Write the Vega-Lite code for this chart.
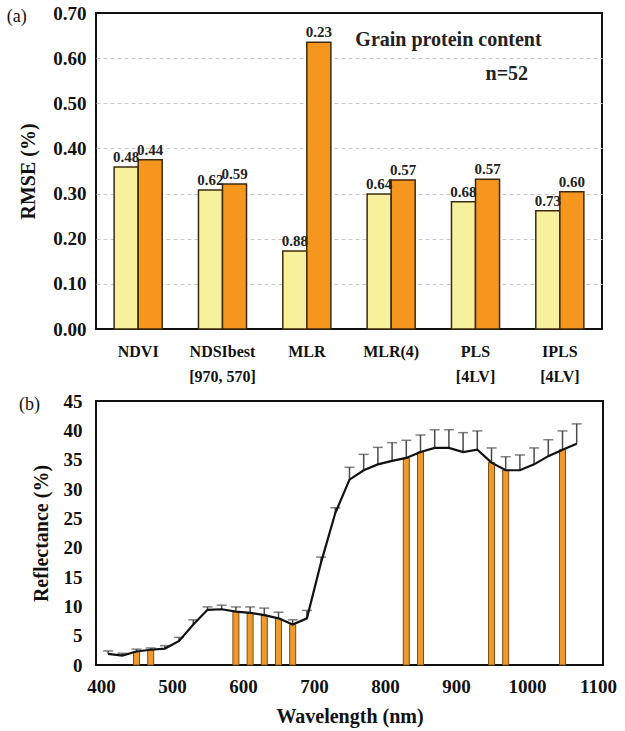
{
  "$schema": "https://vega.github.io/schema/vega-lite/v6.json",
  "padding": {"left": 5, "top": 3, "right": 5, "bottom": 5},
  "background": "white",
  "spacing": 6,
  "config": {
    "view": {"stroke": "#111", "strokeWidth": 2},
    "axis": {"labelFont": "Liberation Serif", "labelFontWeight": "bold", "titleFont": "Liberation Serif", "titleFontWeight": "bold", "labelColor": "#111", "titleColor": "#111", "domain": false, "ticks": false},
    "title": {"font": "Liberation Serif", "fontWeight": "normal", "fontSize": 18, "color": "#111"}
  },
  "vconcat": [
    {
      "width": 506,
      "height": 316,
      "title": {"text": "(a)", "anchor": "start", "frame": "bounds", "offset": -22, "dx": -12, "baseline": "top"},
      "data": {"values": [
        {"cat": "NDVI", "series": "A", "rmse": 0.359, "label": "0.48"},
        {"cat": "NDVI", "series": "B", "rmse": 0.375, "label": "0.44"},
        {"cat": "NDSIbest|[970, 570]", "series": "A", "rmse": 0.308, "label": "0.62"},
        {"cat": "NDSIbest|[970, 570]", "series": "B", "rmse": 0.321, "label": "0.59"},
        {"cat": "MLR", "series": "A", "rmse": 0.173, "label": "0.88"},
        {"cat": "MLR", "series": "B", "rmse": 0.635, "label": "0.23"},
        {"cat": "MLR(4)", "series": "A", "rmse": 0.299, "label": "0.64"},
        {"cat": "MLR(4)", "series": "B", "rmse": 0.330, "label": "0.57"},
        {"cat": "PLS|[4LV]", "series": "A", "rmse": 0.282, "label": "0.68"},
        {"cat": "PLS|[4LV]", "series": "B", "rmse": 0.332, "label": "0.57"},
        {"cat": "IPLS|[4LV]", "series": "A", "rmse": 0.262, "label": "0.73"},
        {"cat": "IPLS|[4LV]", "series": "B", "rmse": 0.304, "label": "0.60"}
      ]},
      "encoding": {
        "x": {"field": "cat", "type": "nominal", "sort": null,
          "scale": {"paddingInner": 0.43, "paddingOuter": 0.215},
          "axis": {"title": null, "labelAngle": 0, "labelFontSize": 16, "labelPadding": 14, "labelLineHeight": 25, "labelExpr": "split(datum.label, '|')"}},
        "y": {"field": "rmse", "type": "quantitative",
          "scale": {"domain": [0, 0.7], "nice": false},
          "axis": {"title": "RMSE (%)", "titleFontSize": 20, "titlePadding": 14, "labelFontSize": 19, "labelPadding": 10, "format": ".2f", "values": [0, 0.1, 0.2, 0.3, 0.4, 0.5, 0.6, 0.7], "grid": true, "gridDash": [4, 3], "gridColor": "#c8c8c8", "gridWidth": 1,
            "gridOpacity": {"condition": {"test": "datum.value > 0.65 || datum.value < 0.05", "value": 0}, "value": 1}}}
      },
      "layer": [
        {
          "mark": {"type": "bar", "stroke": "#3d2a0c", "strokeWidth": 1.5},
          "encoding": {
            "xOffset": {"field": "series", "type": "nominal"},
            "color": {"field": "series", "type": "nominal", "legend": null, "scale": {"domain": ["A", "B"], "range": ["#f7f09c", "#f5961e"]}}
          }
        },
        {
          "mark": {"type": "text", "font": "Liberation Serif", "fontWeight": "bold", "fontSize": 15, "baseline": "bottom", "dy": -2, "color": "#222"},
          "encoding": {
            "xOffset": {"field": "series", "type": "nominal"},
            "text": {"field": "label"}
          }
        },
        {
          "data": {"values": [
            {"cat": "PLS|[4LV]", "rmse": 0.64, "note": "Grain protein content", "shift": 0},
            {"cat": "IPLS|[4LV]", "rmse": 0.565, "note": "n=52", "shift": 1}
          ]},
          "mark": {"type": "text", "font": "Liberation Serif", "fontWeight": "bold", "fontSize": 20, "baseline": "middle", "color": "#222"},
          "encoding": {
            "text": {"field": "note"},
            "xOffset": {"field": "shift", "type": "quantitative", "scale": {"domain": [0, 1], "range": [-3, -29]}}
          }
        }
      ]
    },
    {
      "width": 507,
      "height": 264,
      "title": {"text": "(b)", "anchor": "start", "frame": "bounds", "offset": -22, "dx": -12, "baseline": "top"},
      "data": {"values": [
        {"wl": 410, "r": 1.9, "up": 2.4, "sel": false},
        {"wl": 430, "r": 1.6, "up": 2.0, "sel": false},
        {"wl": 450, "r": 2.3, "up": 2.7, "sel": true},
        {"wl": 470, "r": 2.6, "up": 2.9, "sel": true},
        {"wl": 490, "r": 2.8, "up": 3.3, "sel": false},
        {"wl": 510, "r": 4.1, "up": 4.7, "sel": false},
        {"wl": 530, "r": 6.9, "up": 7.7, "sel": false},
        {"wl": 550, "r": 9.4, "up": 9.9, "sel": false},
        {"wl": 570, "r": 9.5, "up": 10.2, "sel": false},
        {"wl": 590, "r": 9.1, "up": 9.9, "sel": true},
        {"wl": 610, "r": 8.9, "up": 9.9, "sel": true},
        {"wl": 630, "r": 8.5, "up": 9.7, "sel": true},
        {"wl": 650, "r": 7.95, "up": 9.0, "sel": true},
        {"wl": 670, "r": 6.9, "up": 7.7, "sel": true},
        {"wl": 690, "r": 7.95, "up": 9.3, "sel": false},
        {"wl": 710, "r": 17.5, "up": 18.4, "sel": false},
        {"wl": 730, "r": 25.9, "up": 26.8, "sel": false},
        {"wl": 750, "r": 31.6, "up": 33.7, "sel": false},
        {"wl": 770, "r": 33.2, "up": 35.9, "sel": false},
        {"wl": 790, "r": 34.2, "up": 37.1, "sel": false},
        {"wl": 810, "r": 34.8, "up": 37.9, "sel": false},
        {"wl": 830, "r": 35.3, "up": 38.3, "sel": true},
        {"wl": 850, "r": 36.3, "up": 39.2, "sel": true},
        {"wl": 870, "r": 37.0, "up": 40.1, "sel": false},
        {"wl": 890, "r": 37.0, "up": 40.1, "sel": false},
        {"wl": 910, "r": 36.3, "up": 39.6, "sel": false},
        {"wl": 930, "r": 36.7, "up": 39.9, "sel": false},
        {"wl": 950, "r": 34.5, "up": 37.0, "sel": true},
        {"wl": 970, "r": 33.2, "up": 35.5, "sel": true},
        {"wl": 990, "r": 33.2, "up": 35.8, "sel": false},
        {"wl": 1010, "r": 34.2, "up": 37.0, "sel": false},
        {"wl": 1030, "r": 35.6, "up": 38.4, "sel": false},
        {"wl": 1050, "r": 36.7, "up": 39.9, "sel": true},
        {"wl": 1070, "r": 37.7, "up": 41.1, "sel": false}
      ]},
      "encoding": {
        "x": {"field": "wl", "type": "quantitative",
          "scale": {"domain": [400, 1100], "nice": false, "zero": false},
          "axis": {"title": "Wavelength (nm)", "titleFontSize": 20, "titlePadding": 10, "labelFontSize": 19, "labelPadding": 12, "format": "d", "values": [400, 500, 600, 700, 800, 900, 1000, 1100], "grid": false}},
        "y": {"field": "r", "type": "quantitative",
          "scale": {"domain": [0, 45], "nice": false},
          "axis": {"title": "Reflectance  (%)", "titleFontSize": 20, "titlePadding": 12, "labelFontSize": 19, "labelPadding": 14, "values": [0, 5, 10, 15, 20, 25, 30, 35, 40, 45], "grid": false}}
      },
      "layer": [
        {
          "transform": [{"filter": "datum.sel"}],
          "mark": {"type": "bar", "orient": "vertical", "size": 6, "color": "#ee9a2e", "stroke": "#7a4e12", "strokeWidth": 1}
        },
        {
          "mark": {"type": "rule", "color": "#4a4a4a", "strokeWidth": 1.5},
          "encoding": {"y2": {"field": "up"}}
        },
        {
          "mark": {"type": "tick", "orient": "horizontal", "size": 10, "thickness": 1.5, "color": "#4a4a4a"},
          "encoding": {"y": {"field": "up", "type": "quantitative"}}
        },
        {
          "mark": {"type": "line", "color": "#111", "strokeWidth": 2.2},
          "encoding": {}
        }
      ]
    }
  ]
}
